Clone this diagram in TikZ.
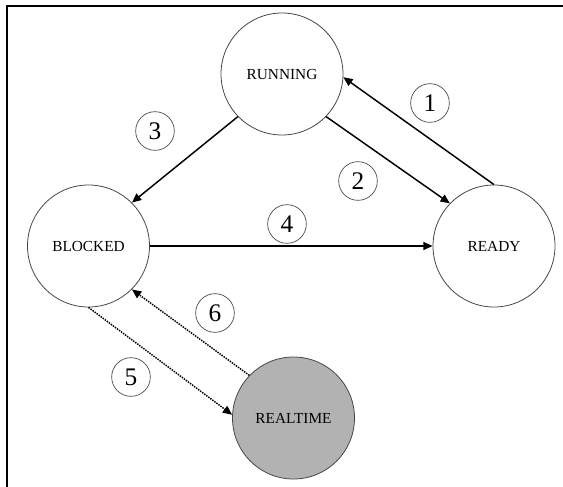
\documentclass[tikz,border=0pt]{standalone}
\usepackage{fontspec}
\setmainfont{Liberation Serif}
\usepackage{xcolor}
\usepackage{tikz}
\usetikzlibrary{arrows.meta}

\definecolor{rtgray}{RGB}{178,178,178}
\definecolor{ringgray}{RGB}{70,70,70}

\tikzset{
  statecirc/.style={circle,draw=ringgray,line width=0.6pt,minimum size=91.5pt,inner sep=0pt,font=\fontsize{11.5}{13}\selectfont},
  numcirc/.style={circle,draw=ringgray,line width=0.5pt,minimum size=29pt,inner sep=0pt,font=\fontsize{19}{21}\selectfont},
  moveline/.style={line width=1.1pt,-{Triangle[length=7pt,width=6pt]}},
  rtline/.style={moveline,dash pattern=on 1.1pt off 0.8pt}
}

\begin{document}
\begin{tikzpicture}[x=0.75pt,y=0.75pt,yscale=-1,xscale=1]

\useasboundingbox (0,0) rectangle (563,486);

\draw [line width=1.5pt]  (7,487) -- (7,6) -- (564,6) ;


\node [statecirc] (running) at (282,74) {RUNNING};

\node [statecirc] (blocked) at (88.5,246) {BLOCKED};

\node [statecirc] (ready) at (494,246) {READY};

\node [statecirc,fill=rtgray] (realtime) at (293.5,418) {REALTIME};


\node [numcirc] (n1) at (430,103) {1};

\node [numcirc] (n2) at (358,181) {2};

\node [numcirc] (n3) at (155,131) {3};

\node [numcirc] (n4) at (287,224) {4};

\node [numcirc] (n5) at (131,377) {5};

\node [numcirc] (n6) at (215,313) {6};


\draw [moveline]  (ready.90) -- (running.-3) ;

\draw [moveline]  (running.316) -- (ready.136) ;

\draw [moveline]  (running.224) -- (blocked.45) ;

\draw [moveline]  (blocked.east) -- (ready.west) ;

\draw [rtline]  (blocked.270) -- (realtime.177) ;

\draw [rtline]  (realtime.136) -- (blocked.315) ;


\end{tikzpicture}
\end{document}
